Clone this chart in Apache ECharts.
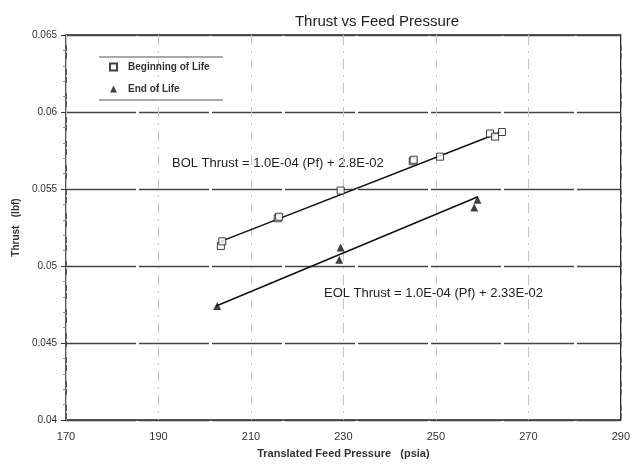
<!DOCTYPE html>
<html><head><meta charset="utf-8">
<script src="https://cdn.jsdelivr.net/npm/echarts@6/dist/echarts.min.js"></script>
<style>html,body{margin:0;padding:0;background:#fff}#c{width:633px;height:464px}</style>
</head><body><div id="c"></div>
<script>
// Data
const bolPressure = [203.5, 203.8, 215.8, 216.1, 229.4, 245.0, 245.2, 250.9, 261.7, 262.8, 264.3];
const bolThrust   = [0.0513, 0.0516, 0.0531, 0.0532, 0.0549, 0.0568, 0.0569, 0.0571, 0.0586, 0.0584, 0.0587];
const eolPressure = [202.7, 229.4, 229.1, 259.0, 258.3];
const eolThrust   = [0.0474, 0.0512, 0.0504, 0.0543, 0.0538];
const bolFitPressure = [203.5, 264.1];
const bolFitThrust   = [0.0516, 0.0587];
const eolFitPressure = [202.5, 259.1];
const eolFitThrust   = [0.0474, 0.0545];
const xTicks = [170, 190, 210, 230, 250, 270, 290];
const yTicks = [0.04, 0.045, 0.05, 0.055, 0.06, 0.065];
const seriesNames = ['Beginning of Life', 'End of Life'];
const bolEquation = 'BOL Thrust = 1.0E-04 (Pf) + 2.8E-02';
const eolEquation = 'EOL Thrust = 1.0E-04 (Pf) + 2.33E-02';

const zip = (a, b) => a.map((v, i) => [v, b[i]]);
const FONT = 'Liberation Sans';

const chart = echarts.init(document.getElementById('c'), null, {renderer: 'canvas'});
chart.setOption({
  animation: false,
  backgroundColor: '#fff',
  textStyle: {fontFamily: FONT},
  title: {
    text: 'Thrust vs Feed Pressure',
    left: 372, top: 9, textAlign: 'center',
    textStyle: {fontFamily: FONT, fontSize: 15, fontWeight: 'normal', color: '#222'}
  },
  grid: {left: 66, right: 11, top: 35, bottom: 41, show: true, borderColor: '#222', borderWidth: 1.5, backgroundColor: 'transparent'},
  legend: {
    data: seriesNames,
    orient: 'vertical', left: 104, top: 57, itemGap: 12,
    itemWidth: 7, itemHeight: 7,
    textStyle: {fontFamily: FONT, fontSize: 10, fontWeight: 'bold', color: '#333', padding: [0, 0, 0, 6]}
  },
  xAxis: {
    type: 'value', min: xTicks[0], max: xTicks[xTicks.length - 1], interval: 20,
    name: 'Translated Feed Pressure   (psia)', nameLocation: 'middle', nameGap: 28,
    nameTextStyle: {fontFamily: FONT, fontSize: 11, fontWeight: 'bold', color: '#333'},
    axisLine: {show: false}, axisTick: {show: false},
    axisLabel: {fontFamily: FONT, fontSize: 11, color: '#333', margin: 11},
    splitLine: {show: true, lineStyle: {color: '#c4c4c4', width: 1, type: [10, 6, 2, 6]}}
  },
  yAxis: {
    type: 'value', min: yTicks[0], max: yTicks[yTicks.length - 1], interval: 0.005,
    name: 'Thrust   (lbf)', nameLocation: 'middle', nameGap: 41,
    nameTextStyle: {fontFamily: FONT, fontSize: 10, fontWeight: 'bold', color: '#333'},
    axisLine: {show: false},
    axisTick: {show: true, length: 5, lineStyle: {color: '#333'}},
    minorTick: {show: true, splitNumber: 5, length: 3, lineStyle: {color: '#888'}},
    axisLabel: {fontFamily: FONT, fontSize: 10, color: '#333', margin: 9,
      formatter: v => String(+v.toFixed(3))},
    splitLine: {show: true, lineStyle: {color: '#444', width: 1.3, type: [70, 3]}}
  },
  graphic: [
    {type: 'line', shape: {x1: 99, y1: 57, x2: 223, y2: 57}, style: {stroke: '#555', lineWidth: 1.2}},
    {type: 'line', shape: {x1: 99, y1: 100, x2: 223, y2: 100}, style: {stroke: '#555', lineWidth: 1.2}},
    {type: 'text', left: 172, top: 157, style: {text: bolEquation, font: '13px "Liberation Sans"', fill: '#222'}},
    {type: 'text', left: 324, top: 287, style: {text: eolEquation, font: '13px "Liberation Sans"', fill: '#222'}}
  ],
  series: [
    {name: seriesNames[0], type: 'scatter', symbol: 'rect', symbolSize: 7,
     itemStyle: {color: '#fff', borderColor: '#111', borderWidth: 1}, z: 5,
     data: zip(bolPressure, bolThrust)},
    {name: seriesNames[1], type: 'scatter', symbol: 'triangle', symbolSize: 8,
     itemStyle: {color: '#111'}, z: 5,
     data: zip(eolPressure, eolThrust)},
    {name: 'BOL fit', type: 'line', symbol: 'none', silent: true,
     lineStyle: {color: '#111', width: 1.5}, z: 4,
     data: zip(bolFitPressure, bolFitThrust)},
    {name: 'EOL fit', type: 'line', symbol: 'none', silent: true,
     lineStyle: {color: '#111', width: 1.5}, z: 4,
     data: zip(eolFitPressure, eolFitThrust)}
  ]
});
</script>
</body></html>
